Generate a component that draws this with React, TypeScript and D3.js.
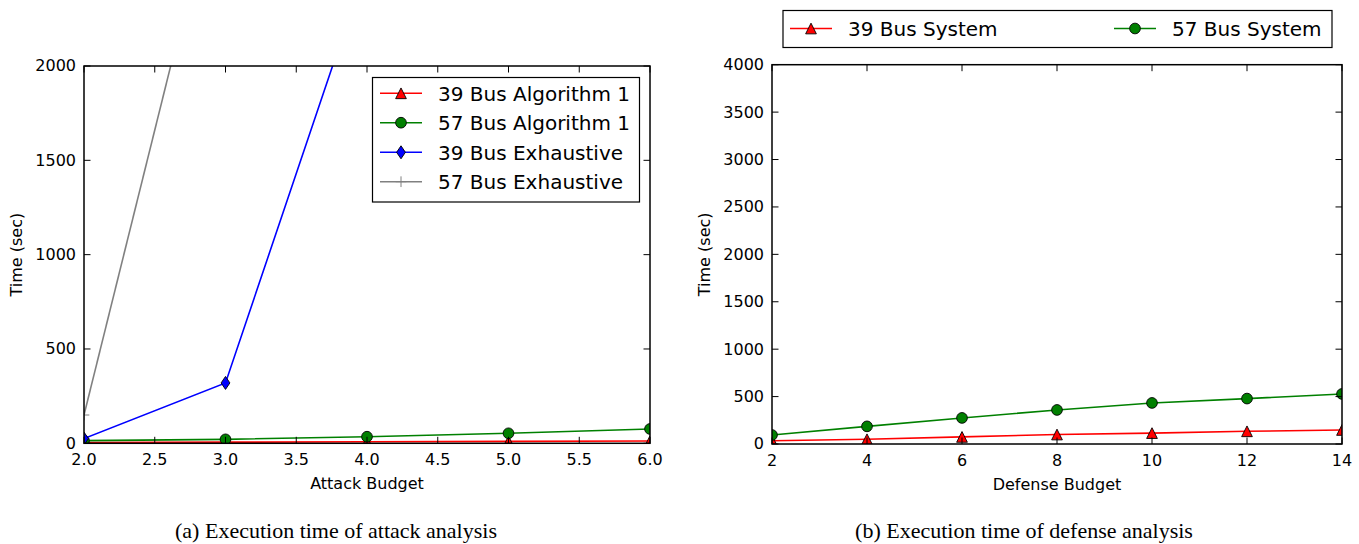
import React from 'react';
import * as d3 from 'd3';

// ---------- data ----------
const attackBudget = [2, 3, 4, 5, 6];
const bus39Algorithm1 = [4, 6, 8, 10, 12];
const bus57Algorithm1 = [14, 21, 35, 53, 76];
const bus39ExhaustiveX = [2, 3, 4];
const bus39Exhaustive = [25, 320, 2540];
const bus57ExhaustiveX = [2, 3];
const bus57Exhaustive = [150, 3170];
const attackXTicks = [2.0, 2.5, 3.0, 3.5, 4.0, 4.5, 5.0, 5.5, 6.0];
const attackYTicks = [0, 500, 1000, 1500, 2000];

const defenseBudget = [2, 4, 6, 8, 10, 12, 14];
const bus39System = [35, 50, 75, 100, 115, 134, 148];
const bus57System = [95, 186, 275, 359, 433, 479, 528];
const defenseXTicks = [2, 4, 6, 8, 10, 12, 14];
const defenseYTicks = [0, 500, 1000, 1500, 2000, 2500, 3000, 3500, 4000];

const FONT = 'DejaVu Sans, sans-serif';
const MS = 10.7; // marker size

type MarkerKind = 'triangle' | 'circle' | 'diamond' | 'plus';

function Marker({ kind, x, y, color }: { kind: MarkerKind; x: number; y: number; color: string }) {
  const h = MS / 2;
  if (kind === 'circle') return <circle cx={x} cy={y} r={h} fill={color} stroke="#000" strokeWidth={0.9} />;
  if (kind === 'triangle')
    return <path d={`M${x},${y - h}L${x - h},${y + h}L${x + h},${y + h}Z`} fill={color} stroke="#000" strokeWidth={0.9} />;
  if (kind === 'diamond') {
    const dh = 6.5;
    const w = 4.4;
    return <path d={`M${x},${y - dh}L${x + w},${y}L${x},${y + dh}L${x - w},${y}Z`} fill={color} stroke="#000" strokeWidth={0.9} />;
  }
  return <path d={`M${x - h},${y}H${x + h}M${x},${y - h}V${y + h}`} stroke={color} strokeWidth={1} fill="none" />;
}

interface Series { xs: number[]; ys: number[]; color: string; marker: MarkerKind; label: string }

function Panel(props: {
  id: string; x0: number; x1: number; y0: number; y1: number;
  xDomain: [number, number]; yDomain: [number, number];
  xTicks: number[]; yTicks: number[]; xFmt: (v: number) => string;
  series: Series[]; xLabel: string;
}) {
  const { id, x0, x1, y0, y1, series } = props;
  const xs = d3.scaleLinear().domain(props.xDomain).range([x0, x1]);
  const ys = d3.scaleLinear().domain(props.yDomain).range([y1, y0]);
  const TL = 6.5;
  const line = d3.line<[number, number]>().x(d => xs(d[0])).y(d => ys(d[1]));
  return (
    <g>
      <defs>
        <clipPath id={id}>
          <rect x={x0} y={y0} width={x1 - x0} height={y1 - y0} />
        </clipPath>
      </defs>
      <g clipPath={`url(#${id})`}>
        {series.map((s, i) => (
          <g key={i}>
            <path d={line(s.xs.map((v, j) => [v, s.ys[j]] as [number, number])) || ''} fill="none" stroke={s.color} strokeWidth={1.6} />
            {s.xs.map((v, j) => <Marker key={j} kind={s.marker} x={xs(v)} y={ys(s.ys[j])} color={s.color} />)}
          </g>
        ))}
      </g>
      {props.xTicks.map((t, i) => (
        <g key={'x' + i}>
          <line x1={xs(t)} x2={xs(t)} y1={y1} y2={y1 - TL} stroke="#000" strokeWidth={1} />
          <line x1={xs(t)} x2={xs(t)} y1={y0} y2={y0 + TL} stroke="#000" strokeWidth={1} />
          <text x={xs(t)} y={y1 + 21.5} textAnchor="middle" fontFamily={FONT} fontSize={16}>{props.xFmt(t)}</text>
        </g>
      ))}
      {props.yTicks.map((t, i) => (
        <g key={'y' + i}>
          <line x1={x0} x2={x0 + TL} y1={ys(t)} y2={ys(t)} stroke="#000" strokeWidth={1} />
          <line x1={x1} x2={x1 - TL} y1={ys(t)} y2={ys(t)} stroke="#000" strokeWidth={1} />
          <text x={x0 - 8} y={ys(t)} dy="0.34em" textAnchor="end" fontFamily={FONT} fontSize={16}>{t}</text>
        </g>
      ))}
      <rect x={x0} y={y0} width={x1 - x0} height={y1 - y0} fill="none" stroke="#000" strokeWidth={1.5} />
      <text x={(x0 + x1) / 2} y={y1 + 46} textAnchor="middle" fontFamily={FONT} fontSize={16}>{props.xLabel}</text>
      <text transform={`translate(${x0 - 62},${(y0 + y1) / 2}) rotate(-90)`} textAnchor="middle" fontFamily={FONT} fontSize={16}>Time (sec)</text>
    </g>
  );
}

function LegendEntry({ s, x, y, lineW = 42 }: { s: Series; x: number; y: number; lineW?: number }) {
  return (
    <g>
      <line x1={x} x2={x + lineW} y1={y} y2={y} stroke={s.color} strokeWidth={1.6} />
      <Marker kind={s.marker} x={x + lineW / 2} y={y} color={s.color} />
      <text x={x + lineW + 16} y={y} dy="0.36em" fontFamily={FONT} fontSize={20}>{s.label}</text>
    </g>
  );
}

export default function App() {
  const attackSeries: Series[] = [
    { xs: attackBudget, ys: bus39Algorithm1, color: '#ff0000', marker: 'triangle', label: '39 Bus Algorithm 1' },
    { xs: attackBudget, ys: bus57Algorithm1, color: '#008000', marker: 'circle', label: '57 Bus Algorithm 1' },
    { xs: bus39ExhaustiveX, ys: bus39Exhaustive, color: '#0000ff', marker: 'diamond', label: '39 Bus Exhaustive' },
    { xs: bus57ExhaustiveX, ys: bus57Exhaustive, color: '#808080', marker: 'plus', label: '57 Bus Exhaustive' },
  ];
  const defenseSeries: Series[] = [
    { xs: defenseBudget, ys: bus39System, color: '#ff0000', marker: 'triangle', label: '39 Bus System' },
    { xs: defenseBudget, ys: bus57System, color: '#008000', marker: 'circle', label: '57 Bus System' },
  ];
  const rowsY = [93.3, 122.7, 152.3, 181.7];
  return (
    <svg width={1359} height={544} style={{ position: 'absolute', left: 0, top: 0, background: '#fff' }}>
      <Panel id="clipA" x0={84} x1={650} y0={66} y1={443.3} xDomain={[2, 6]} yDomain={[0, 2000]}
        xTicks={attackXTicks} yTicks={attackYTicks} xFmt={v => v.toFixed(1)} series={attackSeries} xLabel="Attack Budget" />
      <Panel id="clipB" x0={772} x1={1342} y0={64.7} y1={444} xDomain={[2, 14]} yDomain={[0, 4000]}
        xTicks={defenseXTicks} yTicks={defenseYTicks} xFmt={v => String(v)} series={defenseSeries} xLabel="Defense Budget" />
      {/* left legend */}
      <rect x={372.5} y={77.5} width={267} height={124.5} fill="#fff" stroke="#000" strokeWidth={1.2} />
      {attackSeries.map((s, i) => <LegendEntry key={i} s={s} x={380} y={rowsY[i]} />)}
      {/* right legend */}
      <rect x={783} y={10.5} width={549} height={37} fill="#fff" stroke="#000" strokeWidth={1.2} />
      <LegendEntry s={defenseSeries[0]} x={790} y={28.5} />
      <LegendEntry s={defenseSeries[1]} x={1114} y={28.5} />
      {/* captions */}
      <text x={336} y={538} textAnchor="middle" fontFamily="Liberation Serif, serif" fontSize={22}>(a) Execution time of attack analysis</text>
      <text x={1024} y={538} textAnchor="middle" fontFamily="Liberation Serif, serif" fontSize={22}>(b) Execution time of defense analysis</text>
    </svg>
  );
}
